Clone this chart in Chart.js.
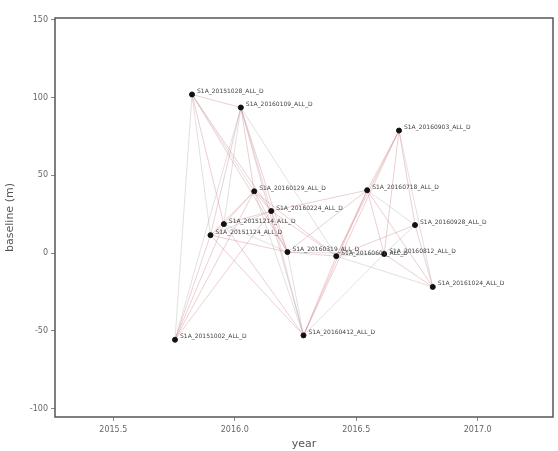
<!DOCTYPE html>
<html lang="en">
<head>
    <meta charset="UTF-8">
    <title>Baseline network</title>
    <script src="https://cdn.jsdelivr.net/npm/chart.js"></script>
    <style>
        html, body { margin: 0; padding: 0; background: #fff; }
        #wrap { width: 558px; height: 451px; }
    </style>
</head>
<body>
    <div id="wrap"><canvas id="net" width="558" height="451"></canvas></div>

    <script>
        // acquisitions, in time order
        const sceneNames = [
            "S1A_20151002_ALL_D", "S1A_20151028_ALL_D", "S1A_20151124_ALL_D",
            "S1A_20151214_ALL_D", "S1A_20160109_ALL_D", "S1A_20160129_ALL_D",
            "S1A_20160224_ALL_D", "S1A_20160319_ALL_D", "S1A_20160412_ALL_D",
            "S1A_20160601_ALL_D", "S1A_20160718_ALL_D", "S1A_20160812_ALL_D",
            "S1A_20160903_ALL_D", "S1A_20160928_ALL_D", "S1A_20161024_ALL_D"
        ];
        const sceneYears = [2015.754, 2015.824, 2015.90, 2015.955, 2016.025, 2016.08, 2016.15,
            2016.217, 2016.283, 2016.418, 2016.545, 2016.615, 2016.676, 2016.742, 2016.815];
        const sceneBaselines = [-55.8, 102, 11.5, 18.6, 93.6, 39.7, 27,
            0.6, -53, -2, 40.4, -0.6, 78.8, 18, -21.8];

        // interferometric pairs (indices into the arrays above)
        const pairs = [
            [0,1],[0,2],[0,3],[0,4],[0,5],[0,6],
            [1,2],[1,3],[1,4],[1,5],[1,6],[1,7],
            [2,3],[2,4],[2,5],[2,6],[2,7],[2,8],
            [3,4],[3,5],[3,6],[3,7],[3,8],
            [4,5],[4,6],[4,7],[4,8],[4,9],
            [5,6],[5,7],[5,8],[5,9],
            [6,7],[6,8],[6,9],[6,10],
            [7,8],[7,9],[7,10],[7,11],
            [8,9],[8,10],[8,11],[8,12],
            [9,10],[9,11],[9,12],[9,13],[9,14],
            [10,11],[10,12],[10,13],[10,14],
            [11,12],[11,13],[11,14],
            [12,13],[12,14],
            [13,14]
        ];

        const xTicks = [2015.5, 2016.0, 2016.5, 2017.0];
        const yTicks = [-100, -50, 0, 50, 100, 150];

        const datasets = pairs.map(function (p, i) {
            return {
                data: [
                    { x: sceneYears[p[0]], y: sceneBaselines[p[0]] },
                    { x: sceneYears[p[1]], y: sceneBaselines[p[1]] }
                ],
                showLine: true,
                borderColor: i % 3 === 0 ? "rgba(170,170,170,0.45)" : "rgba(205,120,130,0.45)",
                borderWidth: 0.8,
                pointRadius: 0,
                order: 1
            };
        });
        datasets.push({
            data: sceneYears.map((x, i) => ({ x: x, y: sceneBaselines[i] })),
            showLine: false,
            pointRadius: 2.5,
            backgroundColor: "#111",
            borderColor: "#111",
            order: 0
        });

        // scene names next to each point + full frame
        const labelPlugin = {
            id: "sceneLabels",
            afterDatasetsDraw(chart) {
                const ctx = chart.ctx;
                const xs = chart.scales.x, ys = chart.scales.y;
                ctx.save();
                ctx.font = "6px 'DejaVu Sans'";
                ctx.fillStyle = "#444";
                ctx.textBaseline = "middle";
                sceneNames.forEach(function (name, i) {
                    ctx.fillText(name, xs.getPixelForValue(sceneYears[i]) + 5,
                        ys.getPixelForValue(sceneBaselines[i]) - 3);
                });
                const a = chart.chartArea;
                ctx.strokeStyle = "#555";
                ctx.lineWidth = 1.5;
                ctx.strokeRect(a.left, a.top, a.right - a.left, a.bottom - a.top);
                ctx.restore();
            }
        };

        new Chart(document.getElementById("net"), {
            type: "scatter",
            data: { datasets: datasets },
            plugins: [labelPlugin],
            options: {
                responsive: false,
                animation: false,
                layout: { padding: { top: 18, right: 1, left: 0, bottom: 0 } },
                plugins: { legend: { display: false }, tooltip: { enabled: false } },
                scales: {
                    x: {
                        type: "linear",
                        min: 2015.26,
                        max: 2017.31,
                        afterBuildTicks: s => { s.ticks = xTicks.map(v => ({ value: v })); },
                        afterFit: s => { s.height = 34; },
                        ticks: {
                            color: "#666",
                            font: { size: 8, family: "'DejaVu Sans'" },
                            padding: 4,
                            callback: v => v.toFixed(1)
                        },
                        grid: { drawOnChartArea: false, tickLength: 4, color: "#888" },
                        border: { display: false },
                        title: {
                            display: true, text: "year", color: "#555",
                            font: { size: 11, family: "'DejaVu Sans'" },
                            padding: { top: 0, bottom: 0 }
                        }
                    },
                    y: {
                        min: -105.5,
                        max: 151.2,
                        afterBuildTicks: s => { s.ticks = yTicks.map(v => ({ value: v })); },
                        afterFit: s => { s.width = 55; },
                        ticks: {
                            color: "#666",
                            font: { size: 8, family: "'DejaVu Sans'" },
                            padding: 3
                        },
                        grid: { drawOnChartArea: false, tickLength: 4, color: "#888" },
                        border: { display: false },
                        title: {
                            display: true, text: "baseline (m)", color: "#555",
                            font: { size: 11, family: "'DejaVu Sans'" },
                            padding: { top: 4, bottom: 0 }
                        }
                    }
                }
            }
        });
    </script>
</body>
</html>
